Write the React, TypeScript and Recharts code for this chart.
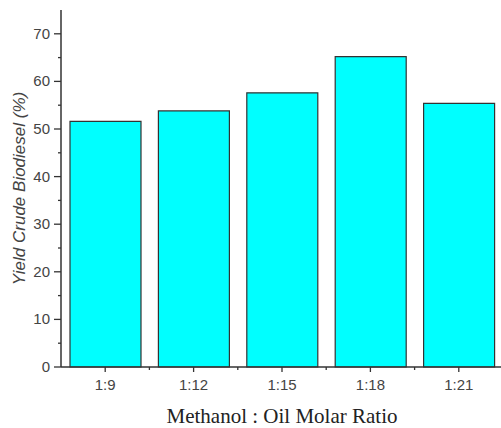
import React from "react";
import { BarChart, Bar, XAxis, YAxis, Label } from "recharts";

// molar ratio categories and crude biodiesel yield (%)
const ratios = ["1:9", "1:12", "1:15", "1:18", "1:21"];
const yields = [51.6, 53.8, 57.6, 65.2, 55.4];

// axis ticks: labelled majors + unlabelled minors
const yTicks = [0, 5, 10, 15, 20, 25, 30, 35, 40, 45, 50, 55, 60, 65, 70];
const xTicks = [0, 0.5, 1, 1.5, 2, 2.5, 3, 3.5, 4];

const data = ratios.map((r, i) => ({ pos: i, ratio: r, yield: yields[i] }));

const axisColor = "#333";
const tickFont = "'Liberation Sans', Arial, sans-serif";

const XTick = (props: any) => {
  const { x, y, payload } = props;
  const v = payload.value;
  const major = Number.isInteger(v);
  return (
    <g>
      <line x1={x} x2={x} y1={y} y2={y + (major ? 5 : 3)} stroke={axisColor} strokeWidth={1.3} />
      {major && (
        <text x={x} y={y + 23} textAnchor="middle" fontSize={15} fontFamily={tickFont} fill="#444">
          {ratios[v]}
        </text>
      )}
    </g>
  );
};

const YTick = (props: any) => {
  const { x, y, payload } = props;
  const v = payload.value;
  const major = v % 10 === 0;
  return (
    <g>
      <line x1={x} x2={x - (major ? 7 : 3)} y1={y} y2={y} stroke={axisColor} strokeWidth={1.3} />
      {major && (
        <text x={x - 11} y={y + 5} textAnchor="end" fontSize={15} fontFamily={tickFont} fill="#444">
          {v}
        </text>
      )}
    </g>
  );
};

export default function App() {
  return (
    <div style={{ position: "absolute", left: 0, top: 0, width: 501, height: 428, overflow: "hidden", background: "#fff" }}>
      <BarChart width={503} height={428} data={data} margin={{ top: 10, right: 0, bottom: 0, left: 0 }}>
        <XAxis
          dataKey="pos"
          type="number"
          domain={[-0.5, 4.5]}
          ticks={xTicks}
          interval={0}
          height={61}
          tickSize={0}
          tickMargin={0}
          tickLine={false}
          tick={<XTick />}
          stroke={axisColor}
          strokeWidth={1.5}
        >
          <Label
            value="Methanol : Oil Molar Ratio"
            position="insideBottom"
            offset={5}
            style={{ fontFamily: "'Liberation Serif', 'Times New Roman', serif", fontSize: 21, fill: "#222" }}
          />
        </XAxis>
        <YAxis
          type="number"
          domain={[0, 75]}
          ticks={yTicks}
          interval={0}
          width={61}
          tickSize={0}
          tickMargin={0}
          tickLine={false}
          tick={<YTick />}
          stroke={axisColor}
          strokeWidth={1.5}
        >
          <Label
            value="Yield Crude Biodiesel (%)"
            angle={-90}
            position="insideLeft"
            offset={19}
            style={{ textAnchor: "middle", fontFamily: tickFont, fontStyle: "italic", fontSize: 17, fill: "#444" }}
          />
        </YAxis>
        <Bar dataKey="yield" barSize={71} fill="#00ffff" stroke="#333" strokeWidth={1.2} isAnimationActive={false} />
      </BarChart>
    </div>
  );
}
